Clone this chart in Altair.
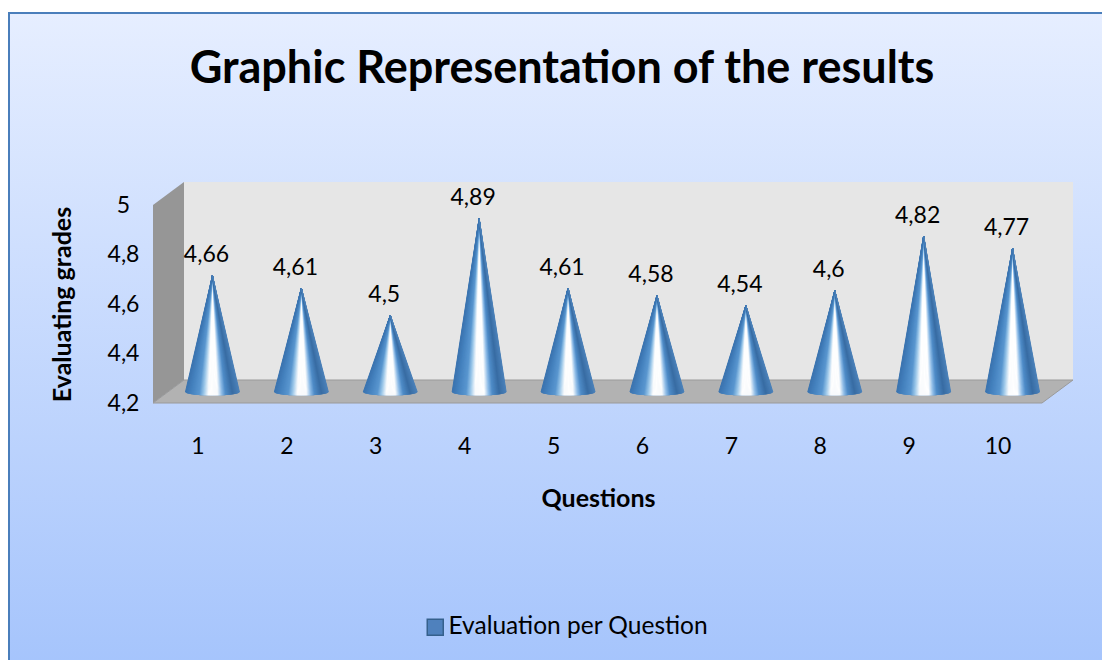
import math
import altair as alt
import pandas as pd

questions = [1, 2, 3, 4, 5, 6, 7, 8, 9, 10]
grades = [4.66, 4.61, 4.5, 4.89, 4.61, 4.58, 4.54, 4.6, 4.82, 4.77]
labels = ["4,66", "4,61", "4,5", "4,89", "4,61", "4,58", "4,54", "4,6", "4,82", "4,77"]
y_ticks = [4.2, 4.4, 4.6, 4.8, 5.0]
series_name = "Evaluation per Question"
chart_title = "Graphic Representation of the results"

FONT = "Lato"
PW, PH = 889, 198
PL, PT = 145, 197
TW, TH = 1094, 652
XD = [0.5, 10.5]
YD = [4.2, 5.0]
DX = 31 / 88.9      # depth of the 3D box in x units
DY = 23 / 247.5     # depth of the 3D box in y units
BASE_W = 27 / 88.9
BASE_R = 3.5 / 247.5
TIP = 0.01

x_scale = alt.Scale(domain=XD, nice=False, zero=False)
y_scale = alt.Scale(domain=YD, nice=False, zero=False)

xn = alt.X("x:Q", scale=x_scale, axis=alt.Axis(
    values=questions, title="Questions", domain=False, ticks=False, grid=False, zindex=1,
    labelFont=FONT, labelFontSize=23, labelColor="#000", labelPadding=32, labelFlush=False,
    titleFont=FONT, titleFontSize=25, titleFontWeight="bold", titleColor="#000",
    titleX=445, titleY=95, titleBaseline="middle", titleAlign="center", format="d"))
yn = alt.Y("y:Q", scale=y_scale, axis=alt.Axis(
    values=y_ticks, title="Evaluating grades", domain=False, ticks=False, grid=False, zindex=1,
    labelFont=FONT, labelFontSize=23, labelColor="#000", labelPadding=30, labelAlign="center",
    labelExpr="replace(format(datum.value, '.1~f'), '.', ',')", labelOverlap=False,
    titleFont=FONT, titleFontSize=25, titleFontWeight="bold", titleColor="#000",
    titleX=-91, titleY=99, titleBaseline="middle", titleAlign="center"))

page = alt.Chart(pd.DataFrame({"a": [0]})).mark_rect(
    color=alt.LinearGradient(gradient="linear", x1=0, x2=0, y1=0, y2=1,
                             stops=[alt.GradientStop(offset=0, color="#e6eeff"),
                                    alt.GradientStop(offset=1, color="#a5c4fc")]),
    stroke="#4a7ebb", strokeWidth=2,
).encode(x=alt.value(-PL + 1), x2=alt.value(TW - PL + 10),
         y=alt.value(-PT + 5), y2=alt.value(TH - PT + 10))

title_l = alt.Chart(pd.DataFrame({"t": [chart_title]})).mark_text(
    font=FONT, fontSize=45, fontWeight="bold", color="#000", align="center", baseline="middle"
).encode(x=alt.value(409), y=alt.value(-136), text="t:N")

# 3D box, in data units
back = pd.DataFrame({"x": [XD[0] + DX], "x2": [XD[1] + DX], "y": [YD[0] + DY], "y2": [YD[1] + DY]})
back_l = alt.Chart(back).mark_rect(color="#e6e6e6").encode(
    x=xn, x2="x2:Q", y=yn, y2="y2:Q")

left = pd.DataFrame({"x": [XD[0], XD[0] + DX], "y": [YD[1], YD[1] + DY], "y2": [YD[0], YD[0] + DY]})
left_l = alt.Chart(left).mark_area(color="#969696").encode(x=xn, y=yn, y2="y2:Q")

floor = pd.DataFrame({"x": [XD[0], XD[0] + DX], "x2": [XD[1], XD[1] + DX], "y": [YD[0], YD[0] + DY]})
floor_l = alt.Chart(floor).mark_area(color="#b2b2b2", orient="horizontal", stroke="#9a9a9a", strokeWidth=1).encode(
    x=xn, x2="x2:Q", y=yn)

# cones: silhouette plus fine shading rays that converge on the tip
stops = [(0.0, "#3b74b0"), (0.1, "#4582bf"), (0.25, "#5a97d0"), (0.33, "#9cc8ea"),
         (0.42, "#ffffff"), (0.6, "#ffffff"), (0.68, "#8fbde8"), (0.75, "#4f8cc8"),
         (0.88, "#386ca3"), (1.0, "#4a80b8")]


def shade(p):
    for (a, ca), (b, cb) in zip(stops, stops[1:]):
        if a <= p <= b:
            t = (p - a) / (b - a)
            rgb = [round(int(ca[i:i + 2], 16) * (1 - t) + int(cb[i:i + 2], 16) * t) for i in (1, 3, 5)]
            return "#%02x%02x%02x" % tuple(rgb)
    return stops[-1][1]


outline, rays = [], []
ray_steps = sorted((k / 54 for k in range(-54, 55)), key=abs)
for q, v in zip(questions, grades):
    for u in [k / 20 for k in range(-20, 21)]:
        outline.append({"q": q, "x": q + u * BASE_W,
                        "y": 4.2 + (v + TIP - 4.2) * (1 - abs(u)),
                        "y2": 4.2 - BASE_R * math.sqrt(max(0, 1 - u * u))})
    for u in ray_steps:
        rays.append({"x": q + u * BASE_W, "x2": q, "y2": v + TIP,
                     "y": 4.2 - BASE_R * math.sqrt(max(0, 1 - u * u)),
                     "c": shade((u + 1) / 2)})

cones = alt.Chart(pd.DataFrame(outline)).mark_area(
    color="#4582bf", xOffset=15, x2Offset=15, yOffset=-11, y2Offset=-11
).encode(x=xn, y=yn, y2="y2:Q", detail="q:N")
rays_l = alt.Chart(pd.DataFrame(rays)).mark_rule(
    strokeWidth=1, xOffset=15, x2Offset=15, yOffset=-11, y2Offset=-11
).encode(x=xn, x2="x2:Q", y=yn, y2="y2:Q", stroke=alt.Stroke("c:N", scale=None, legend=None))

# value labels
tx = pd.DataFrame({"x": questions, "y": grades, "t": labels})
texts = alt.Chart(tx).mark_text(font=FONT, fontSize=23, color="#000", xOffset=9, yOffset=-34).encode(
    x=xn, y=yn, text="t:N")

# legend carrier
lg = pd.DataFrame({"x": [1], "y": [4.2], "s": [series_name]})
legend_l = alt.Chart(lg).mark_point(filled=True, shape="square", opacity=0).encode(
    x=xn, y=yn,
    color=alt.Color("s:N", scale=alt.Scale(domain=[series_name], range=["#4f81bd"]), legend=alt.Legend(
        title=None, orient="none", legendX=270, legendY=410,
        symbolType="square", symbolSize=256, symbolOpacity=1, symbolStrokeColor="#35608c", symbolStrokeWidth=1.5,
        labelFont=FONT, labelFontSize=24.5, labelColor="#000", labelLimit=400, labelOffset=1)))

chart = alt.layer(page, title_l, back_l, left_l, floor_l, cones, rays_l, texts, legend_l).properties(
    width=PW, height=PH,
    padding={"left": PL, "top": PT, "right": TW - PL - PW, "bottom": TH - PT - PH},
    autosize=alt.AutoSizeParams(type="none"),
    background="white",
).configure_view(stroke=None)

chart.save("out.html", embed_options={"renderer": "svg", "actions": False})
